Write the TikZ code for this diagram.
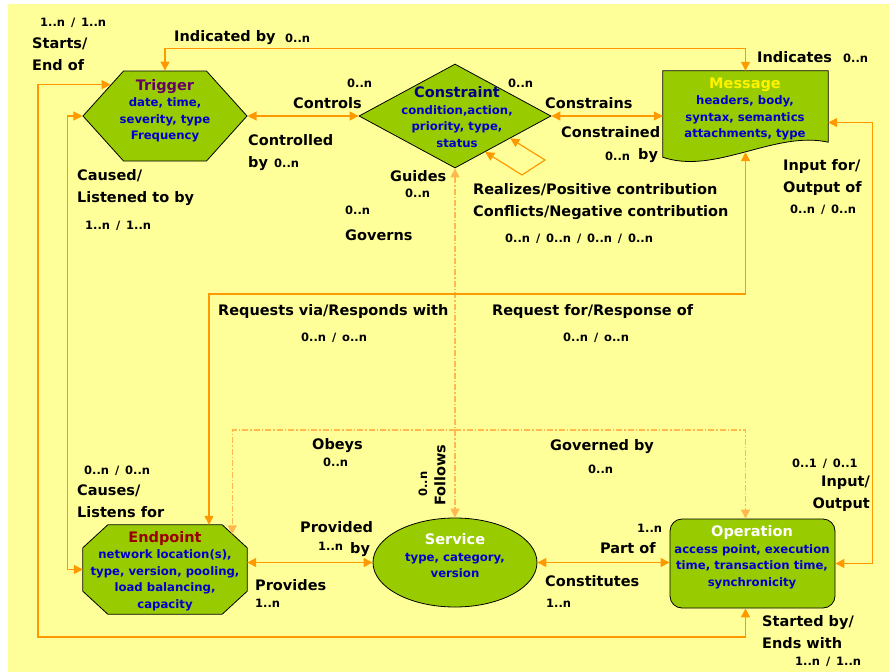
\documentclass[tikz,border=0pt]{standalone}
\usepackage{fontspec}
\setmainfont{DejaVu Sans}
\usetikzlibrary{shapes.geometric, shapes.symbols, arrows.meta}

\definecolor{bgyellow}{HTML}{FFFF99}
\definecolor{boxgreen}{HTML}{99CC00}
\definecolor{linkorange}{HTML}{FF9900}
\definecolor{govorange}{HTML}{FFB84D}
\definecolor{attrblue}{HTML}{0000CC}
\definecolor{triggerpurple}{HTML}{660066}
\definecolor{constraintnavy}{HTML}{000080}
\definecolor{endpointred}{HTML}{990000}

\tikzset{
    shapebox/.style={draw=black, fill=boxgreen, line width=0.8pt, inner sep=0pt},
    attrtext/.style={align=center, text=attrblue, inner sep=0pt,
        font=\fontsize{11.7}{16.5}\selectfont\bfseries},
    lbl/.style={anchor=base west, align=left, inner sep=0pt,
        font=\fontsize{14.5}{21.5}\selectfont\bfseries},
    mult/.style={anchor=base west, inner sep=0pt,
        font=\fontsize{11.5}{13}\selectfont\bfseries},
    link/.style={draw=linkorange, line width=1.2pt, <->},
    govlink/.style={draw=govorange, line width=1.2pt, <->,
        dash pattern=on 6pt off 2pt on 1.5pt off 2pt},
    >={Triangle[length=9pt, width=9pt]}
}
\newcommand{\nodetitle}[2]{{\color{#1}\fontsize{14.5}{18}\selectfont #2}}

\begin{document}
\begin{tikzpicture}[x=1pt, y=-1pt]
    \useasboundingbox (0,0) rectangle (889,672);
    \fill[bgyellow] (8,4) rectangle (889,672);

    % Concepts
    \node[shapebox, signal, signal to=west and east, signal pointer angle=96,
        minimum width=164pt, minimum height=90pt] (trigger) at (165,116) {};
    \node[shapebox, diamond, minimum width=192pt, minimum height=104pt] (constraint) at (455,116) {};
    \node[inner sep=0pt, minimum width=165pt, minimum height=81pt] (message) at (745.5,111.5) {};
    \filldraw[shapebox] (message.north west) -- (message.north east)
        -- ([yshift=10pt]message.south east)
        .. controls ([xshift=-53pt, yshift=22pt]message.south east)
        and ([xshift=52pt, yshift=-23pt]message.south west) ..
        ([yshift=-5pt]message.south west) -- cycle;
    \node[inner sep=0pt, minimum width=164pt, minimum height=89pt] (endpoint) at (165,569.5) {};
    \filldraw[shapebox] ([xshift=25pt]endpoint.north west) -- ([xshift=-25pt]endpoint.north east)
        -- ([yshift=-23pt]endpoint.north east) -- ([yshift=23pt]endpoint.south east)
        -- ([xshift=-25pt]endpoint.south east) -- ([xshift=25pt]endpoint.south west)
        -- ([yshift=23pt]endpoint.south west) -- ([yshift=-23pt]endpoint.north west) -- cycle;
    \coordinate (epgov) at ([xshift=-15pt, yshift=-9.5pt]endpoint.north east);
    \node[shapebox, ellipse, minimum width=164pt, minimum height=89pt] (service) at (455,562.5) {};
    \node[shapebox, rectangle, rounded corners=12pt, minimum width=165pt, minimum height=89pt] (operation) at (752.5,563.5) {};

    % Concept texts
    \node[attrtext] (triggerTxt) at (165,111) {\nodetitle{triggerpurple}{Trigger}\\ date, time,\\ severity, type\\ Frequency};
    \node[attrtext] (constraintTxt) at (457,117) {\nodetitle{constraintnavy}{Constraint}\\ condition,action,\\ priority, type,\\ status};
    \node[attrtext] (messageTxt) at (745,109) {\nodetitle{yellow}{Message}\\ headers, body,\\ syntax, semantics\\ attachments, type};
    \node[attrtext] (endpointTxt) at (165,571) {\nodetitle{endpointred}{Endpoint}\\ network location(s),\\ type, version, pooling,\\ load balancing,\\ capacity};
    \node[attrtext] (serviceTxt) at (455,556) {\nodetitle{white}{Service}\\ type, category,\\ version};
    \node[attrtext] (operationTxt) at (752,557) {\nodetitle{white}{Operation}\\ access point, execution\\ time, transaction time,\\ synchronicity};

    % Relations
    \draw[link] (trigger.north) -- ++(0,-22) -| (message.north);
    \draw[link] (trigger.east) -- (constraint.west);
    \draw[link] (constraint.east) -- (constraint.east -| message.west);
    \draw[link] (constraint.-50) -- (522,175) -- (545,160) -- (constraint.-22);
    \draw[govlink] (constraint.south) -- (service.north);
    \coordinate (govsplit) at (455,430);
    \draw[govlink, ->] (govsplit) -| (epgov);
    \draw[govlink, ->] (govsplit) -| ([xshift=-7pt]operation.north);
    \draw[link] (message.south) |- (209,294) -- ([xshift=44pt]endpoint.north);
    \draw[link] ([yshift=-11pt]message.east) -- ++(44,0) |- (operation.east);
    \draw[link] (trigger.west) -- ++(-15,0) |- (endpoint.west);
    \draw[link] (trigger.150) -| (38,637) -| ([xshift=-7pt]operation.south);
    \draw[link] (endpoint.east |- service.west) -- (service.west);
    \draw[link] (service.east) -- (service.east -| operation.west);

    % Relation names
    \node[lbl] (lIndicatedBy) at (174,41) {Indicated by};
    \node[lbl] (lIndicates) at (757,62) {Indicates};
    \node[lbl] (lStarts) at (32,70) {Starts/\\End of};
    \node[lbl] (lControls) at (293,108) {Controls};
    \node[lbl] (lControlled) at (248,167) {Controlled\\by};
    \node[lbl] (lConstrains) at (545,108) {Constrains};
    \node[lbl] (lConstrained) at (561,137) {Constrained};
    \node[lbl] (lConstrainedBy) at (638,159) {by};
    \node[lbl] (lCaused) at (77,202) {Caused/\\Listened to by};
    \node[lbl] (lGuides) at (390,181) {Guides};
    \node[lbl] (lRealizes) at (473,216) {Realizes/Positive contribution\\Conflicts/Negative contribution};
    \node[lbl] (lGoverns) at (345,240) {Governs};
    \node[lbl] (lInputFor) at (783,192) {Input for/\\Output of};
    \node[lbl] (lRequests) at (218,315) {Requests via/Responds with};
    \node[lbl] (lRequestFor) at (492,315) {Request for/Response of};
    \node[lbl] (lObeys) at (312,449) {Obeys};
    \node[lbl] (lGovernedBy) at (550,450) {Governed by};
    \node[lbl, anchor=center, rotate=90] (lFollows) at (440,475) {Follows};
    \node[lbl] (lCauses) at (77,517) {Causes/\\Listens for};
    \node[lbl, anchor=base east, align=right] (lInputOutput) at (870,508) {Input/\\Output};
    \node[lbl] (lProvided) at (300,532) {Provided};
    \node[lbl] (lProvidedBy) at (350,553) {by};
    \node[lbl] (lProvides) at (255,590) {Provides};
    \node[lbl] (lPartOf) at (600,553) {Part of};
    \node[lbl] (lConstitutes) at (545,586) {Constitutes};
    \node[lbl] (lStartedBy) at (762,648) {Started by/\\Ends with};

    % Multiplicities
    \node[mult] (mIndicatedBy) at (285,42) {0..n};
    \node[mult] (mIndicates) at (843,62) {0..n};
    \node[mult] (mStarts) at (40,26) {1..n \,/\, 1..n};
    \node[mult] (mControls) at (347,87) {0..n};
    \node[mult] (mConstrains) at (508,87) {0..n};
    \node[mult] (mControlled) at (274,167) {0..n};
    \node[mult] (mConstrained) at (605,160) {0..n};
    \node[mult] (mCaused) at (85,229) {1..n \,/\, 1..n};
    \node[mult] (mGuides) at (405,197) {0..n};
    \node[mult] (mGoverns) at (345,214) {0..n};
    \node[mult] (mRealizes) at (505,242) {0..n \,/\, 0..n \,/\, 0..n \,/\, 0..n};
    \node[mult] (mInputFor) at (790,213) {0..n \,/\, 0..n};
    \node[mult] (mRequests) at (301,341) {0..n \,/\, o..n};
    \node[mult] (mRequestFor) at (563,341) {0..n \,/\, o..n};
    \node[mult] (mObeys) at (323,466) {0..n};
    \node[mult] (mGovernedBy) at (588,473) {0..n};
    \node[mult, anchor=center, rotate=90] (mFollows) at (423,484) {0..n};
    \node[mult] (mCauses) at (84,474) {0..n \,/\, 0..n};
    \node[mult] (mInputOutput) at (792,467) {0..1 \,/\, 0..1};
    \node[mult] (mProvided) at (318,550) {1..n};
    \node[mult] (mProvides) at (255,607) {1..n};
    \node[mult] (mPartOf) at (637,532) {1..n};
    \node[mult] (mConstitutes) at (546,607) {1..n};
    \node[mult] (mStartedBy) at (795,665) {1..n \,/\, 1..n};
\end{tikzpicture}
\end{document}
